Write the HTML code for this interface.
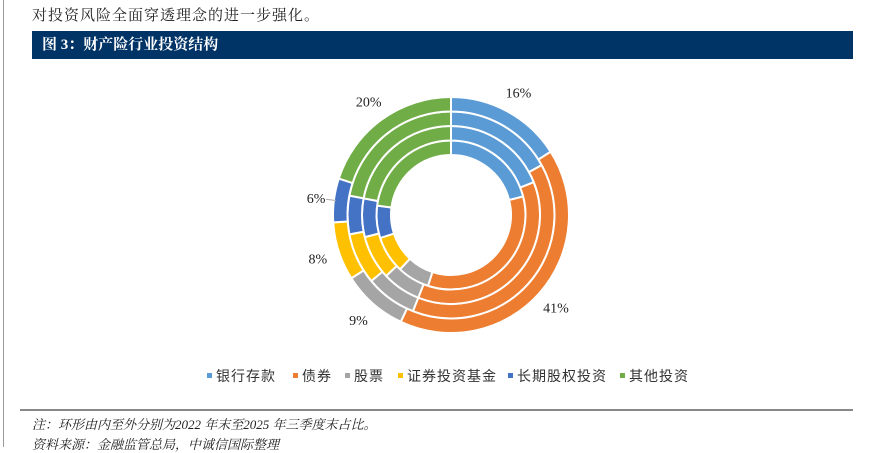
<!DOCTYPE html>
<html><head><meta charset="utf-8"><style>
body{margin:0;width:874px;height:447px;background:#fff;position:relative;overflow:hidden;font-family:"Liberation Serif","Noto Serif CJK SC",serif;}
.abs{position:absolute;}
</style></head><body>
<div class="abs" style="left:3px;top:0;width:1px;height:447px;background:#999"></div>
<div class="abs" style="left:32px;top:4px;font-size:15px;color:#222;letter-spacing:1px;white-space:nowrap">对投资风险全面穿透理念的进一步强化。</div>
<div class="abs" style="left:32px;top:31px;width:821px;height:28px;background:#003366;color:#fff;font-size:15px;line-height:28px;padding-left:10px;box-sizing:border-box;font-weight:bold">图 3：财产险行业投资结构</div>
<svg class="abs" style="left:0;top:0" width="874" height="447" id="chart"></svg>
<div class="abs" style="left:20px;top:409px;width:833px;height:2px;background:#888"></div>
<div class="abs" style="left:32px;top:414px;font-size:13px;font-style:italic;color:#222;white-space:nowrap">注：环形由内至外分别为2022 年末至2025 年三季度末占比。</div>
<div class="abs" style="left:32px;top:434px;font-size:13px;font-style:italic;color:#222;white-space:nowrap">资料来源：金融监管总局，中诚信国际整理</div>
<script>
const categories=["银行存款","债券","股票","证券投资基金","长期股权投资","其他投资"];
const colors=["#5b9bd5","#ed7d31","#a5a5a5","#ffc000","#4472c4","#70ad47"];
const years=["2022","2023","2024","2025Q3"];
const v2022=[21,34,7,8,7,23];
const v2023=[19,37,7,8,7,22];
const v2024=[17,39,8,8,6,22];
const v2025=[16,41,9,8,6,20];
const series=[v2022,v2023,v2024,v2025];
const outerLabels=["16%","41%","9%","8%","6%","20%"];
const NS="http://www.w3.org/2000/svg";
const svg=document.getElementById("chart");
const cx=451,cy=215,r0=60,rw=14.5;
function pt(r,a){return [cx+r*Math.sin(a),cy-r*Math.cos(a)];}
series.forEach((vals,ri)=>{
  const tot=vals.reduce((a,b)=>a+b,0);
  const ri0=r0+ri*rw, ro=ri0+rw;
  let acc=0;
  vals.forEach((v,i)=>{
    const a0=acc/tot*2*Math.PI, a1=(acc+v)/tot*2*Math.PI; acc+=v;
    const lg=(a1-a0)>Math.PI?1:0;
    const [x0,y0]=pt(ro,a0),[x1,y1]=pt(ro,a1),[x2,y2]=pt(ri0,a1),[x3,y3]=pt(ri0,a0);
    const p=document.createElementNS(NS,"path");
    p.setAttribute("d",`M${x0},${y0}A${ro},${ro} 0 ${lg} 1 ${x1},${y1}L${x2},${y2}A${ri0},${ri0} 0 ${lg} 0 ${x3},${y3}Z`);
    p.setAttribute("fill",colors[i]);p.setAttribute("stroke","#fff");p.setAttribute("stroke-width","2");
    
    
    svg.appendChild(p);
  });
});
(function(){
  const vals=v2025,tot=vals.reduce((a,b)=>a+b,0);let acc=0;
  vals.forEach((v,i)=>{
    const am=(acc+v/2)/tot*2*Math.PI;acc+=v;
    let [x,y]=pt(i==4?136:140,am);
    const t=document.createElementNS(NS,"text");
    t.setAttribute("x",x);t.setAttribute("y",y+5);t.setAttribute("text-anchor","middle");
    t.setAttribute("font-size","14");t.setAttribute("fill","#222");
    t.setAttribute("font-family",'"Liberation Serif",serif');
    t.textContent=outerLabels[i];
    
    
    svg.appendChild(t);
    if(i==4){
      const [lx1,ly1]=pt(126,am),[lx2,ly2]=pt(116,am);
      const l=document.createElementNS(NS,"line");
      l.setAttribute("x1",lx1);l.setAttribute("y1",ly1);l.setAttribute("x2",lx2);l.setAttribute("y2",ly2);
      l.setAttribute("stroke","#aaa");l.setAttribute("stroke-width","1");
      
      
      svg.appendChild(l);
    }
  });
})();
const legX=[207,293,345,398,508,620];
categories.forEach((c,i)=>{
  const r=document.createElementNS(NS,"rect");
  r.setAttribute("x",legX[i]);r.setAttribute("y",373);r.setAttribute("width",5);r.setAttribute("height",5);r.setAttribute("fill",colors[i]);
  
  
  svg.appendChild(r);
  const t=document.createElementNS(NS,"text");
  t.setAttribute("x",legX[i]+9);t.setAttribute("y",381);t.setAttribute("font-size","14");t.setAttribute("fill","#333");
  t.setAttribute("font-family",'"Liberation Sans","Noto Sans CJK SC",sans-serif');t.setAttribute("letter-spacing","1");
  t.textContent=c;
  
  
  svg.appendChild(t);
});
</script>
</body></html>
